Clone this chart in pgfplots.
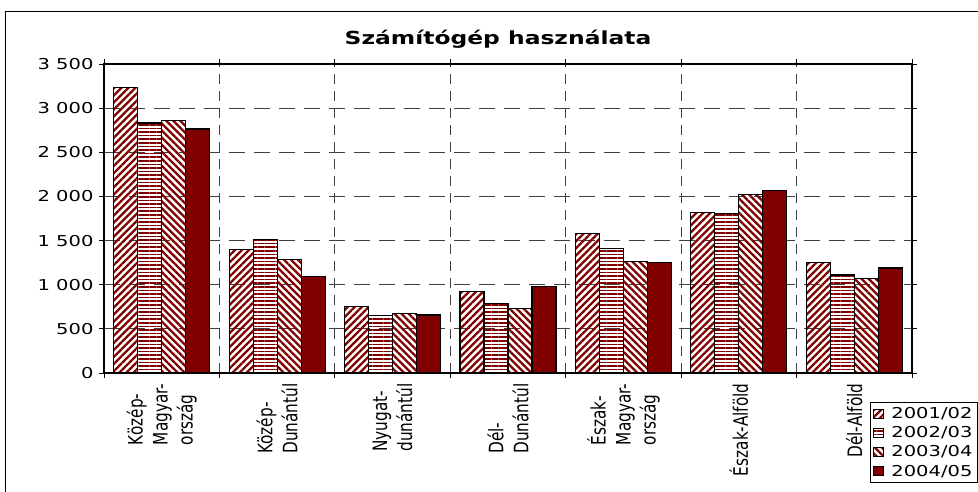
\documentclass[border=0pt]{standalone}
\usepackage{fontspec}
\setmainfont{DejaVu Sans}[FakeStretch=1.3]
\newfontfamily\vfont{DejaVu Sans}
\usepackage{pgfplots}
\pgfplotsset{compat=1.18}
\usetikzlibrary{patterns.meta}
\definecolor{maroon}{HTML}{800000}

\begin{document}
\begin{tikzpicture}[x=1pt,y=1pt]
\useasboundingbox (0,0) rectangle (978,492);
\draw[line width=1pt] (5,-10) rectangle (990,480);
\node[font=\bfseries\fontsize{18}{20}\selectfont] at (498,453) {Számítógép használata};
\begin{axis}[
    at={(104pt,119pt)}, anchor=south west,
    width=808pt, height=309pt, scale only axis,
    ybar=0pt, bar width=0.208,
    xmin=-0.5, xmax=6.5,
    ymin=0, ymax=3500,
    ytick={0,500,...,3500},
    xtick={-0.5,0.5,...,6.5},
    xticklabels={},
    extra x ticks={0,1,2,3,4,5,6},
    extra x tick labels={
        {Közép-\\Magyar-\\ország},
        {Közép-\\Dunántúl},
        {Nyugat-\\dunántúl},
        {Dél-\\Dunántúl},
        {Észak-\\Magyar-\\ország},
        {Észak-Alföld},
        {Dél-Alföld}},
    extra x tick style={
        grid=none, major tick length=0pt,
        tick label style={yshift=-7pt, rotate=90, yscale=1.3, anchor=east, align=left,
            font=\vfont\fontsize{15.3}{19.2}\selectfont}},
    tick align=outside, major tick length=5pt,
    axis line style={line width=1.3pt},
    xmajorgrids, ymajorgrids,
    x grid style={black!75, line width=0.9pt, dash pattern=on 10pt off 7pt},
    y grid style={black!75, line width=0.9pt, dash pattern=on 16pt off 9pt},
    tick style={black, line width=0.9pt},
    /pgf/number format/assume math mode=true,
    /pgf/number format/1000 sep={\ },
    yticklabel style={font=\fontsize{15}{18}\selectfont, xshift=-2pt},
    every axis plot/.append style={draw=black, line width=1.2pt},
    legend cell align=left,
    legend image code/.code={\draw[#1, line width=0.8pt] (2pt,-4.5pt) rectangle (12pt,4.5pt);
        \path (17pt,0pt);},
    legend style={at={(0.948,-0.094)}, anchor=north west, draw=black,
        line width=0.9pt, font=\fontsize{15}{17}\selectfont,
        row sep=2.5pt, inner xsep=3pt, inner ysep=3pt},
]
\addplot[pattern={Lines[angle=45,distance=5pt,line width=2.3pt]}, pattern color=maroon]
    coordinates {(0,3235) (1,1398) (2,752) (3,920) (4,1583) (5,1819) (6,1254)};
\addplot[pattern={Lines[angle=0,distance=3.6pt,line width=1.7pt]}, pattern color=maroon]
    coordinates {(0,2831) (1,1508) (2,654) (3,791) (4,1409) (5,1805) (6,1111)};
\addplot[pattern={Lines[angle=-45,distance=5pt,line width=2.3pt]}, pattern color=maroon]
    coordinates {(0,2858) (1,1285) (2,672) (3,727) (4,1261) (5,2023) (6,1070)};
\addplot[fill=maroon]
    coordinates {(0,2763) (1,1093) (2,656) (3,981) (4,1250) (5,2071) (6,1190)};
\legend{2001/02, 2002/03, 2003/04, 2004/05}
\end{axis}
\end{tikzpicture}
\end{document}
